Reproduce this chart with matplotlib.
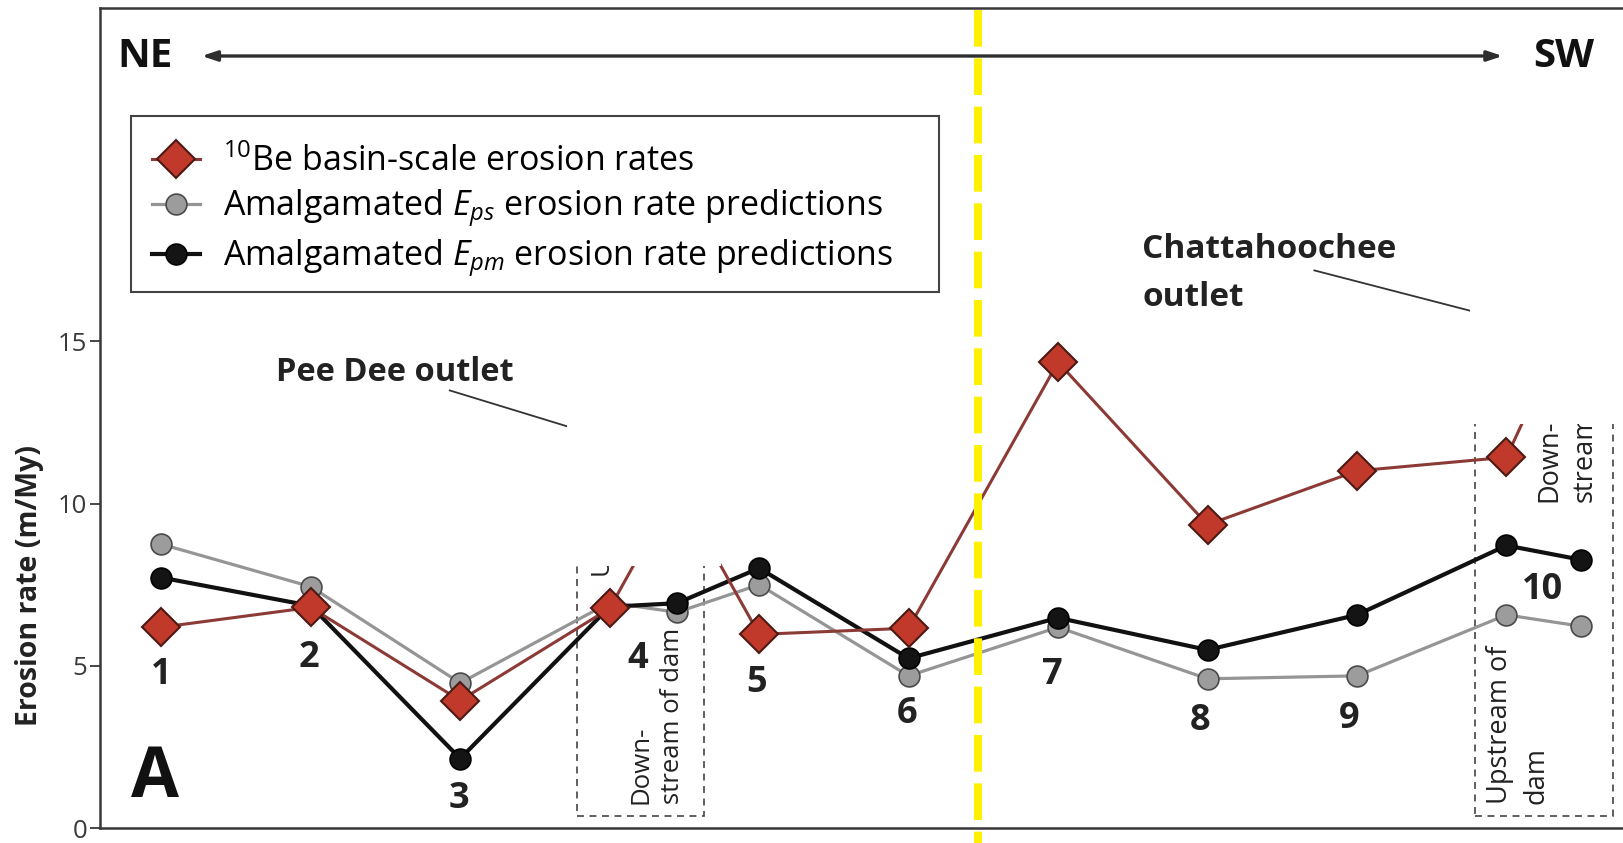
import matplotlib
matplotlib.use("Agg")
import matplotlib.pyplot as plt
from matplotlib.patches import Rectangle
from matplotlib.lines import Line2D

plt.rcParams['font.family'] = ['Open Sans', 'DejaVu Sans']
plt.rcParams['mathtext.fontset'] = 'custom'
plt.rcParams['mathtext.rm'] = 'Open Sans'
plt.rcParams['mathtext.it'] = 'Open Sans:italic'
plt.rcParams['mathtext.bf'] = 'Open Sans:bold'
plt.rcParams['lines.scale_dashes'] = False

# sample positions along the NE -> SW profile (sites 4 and 10 have a pair around the dam)
site_pos = [1, 2, 3, 4, 4.45, 5, 6, 7, 8, 9, 10, 10.5]
be10_rate = [6.19, 6.80, 3.93, 6.77, 10.5, 5.97, 6.16, 14.36, 9.35, 11.01, 11.43, 16.4]
eps_rate = [8.75, 7.44, 4.47, 6.95, 6.65, 7.50, 4.69, 6.19, 4.60, 4.69, 6.57, 6.22]
epm_rate = [7.72, 6.85, 2.14, 6.82, 6.93, 8.01, 5.23, 6.48, 5.49, 6.57, 8.71, 8.27]

site_names = ['1', '2', '3', '4', '5', '6', '7', '8', '9', '10']
yticks = [0, 5, 10, 15]

# where each site number sits
label_xy = [(1.0, 4.72), (1.99, 5.25), (2.99, 0.9), (4.19, 5.2), (4.98, 4.47),
            (5.99, 3.52), (6.96, 4.72), (7.95, 3.3), (8.95, 3.36), (10.24, 7.35)]

fig = plt.figure(figsize=(16.23, 8.43), dpi=100)
ax = fig.add_axes([100 / 1623, 15 / 843, 1523 / 1623, 820 / 843])

edge = '#383838'
for s in ax.spines.values():
    s.set_linewidth(1.8)
    s.set_color(edge)
ax.spines['right'].set_visible(False)

grey_line, = ax.plot(site_pos, eps_rate, color='#959595', lw=2.3, marker='o', ms=15,
                     mfc='#9c9c9c', mec='#4a4a4a', mew=1.2, zorder=3,
                     label='Amalgamated $E_{ps}$ erosion rate predictions')
black_line, = ax.plot(site_pos, epm_rate, color='#111111', lw=3.0, marker='o', ms=15,
                      mfc='#141414', mec='#000000', mew=1.2, zorder=4,
                      label='Amalgamated $E_{pm}$ erosion rate predictions')
red_line, = ax.plot(site_pos, be10_rate, color='#8c3a36', lw=2.2, marker='D', ms=19,
                    mfc='#c0392b', mec='#4a1a14', mew=1.5, zorder=5,
                    label='$^{10}$Be basin-scale erosion rates')

ax.set_xlim(0.59, 10.78)
ax.set_ylim(0, 25.28)
ax.set_xticks([])
ax.set_yticks(yticks)
ax.tick_params(axis='y', direction='out', length=7, width=1.3, color=edge,
               labelsize=18.5, labelcolor='#3a3a3a', pad=2)

fig.text(30 / 1623, 1 - 585 / 843, 'Erosion rate (m/My)', rotation=90, fontsize=20.5,
         fontweight='bold', ha='center', va='center', color='#222222')

# site numbers
for name, (x, y) in zip(site_names, label_xy):
    ax.text(x, y, name, fontsize=26, fontweight='bold', ha='center', va='center',
            color='#222222', zorder=6)

ax.text(0.96, 1.5, 'A', fontsize=50, fontweight='bold', ha='center', va='center',
        color='#111111')

# NE - SW direction arrow
ax.annotate('', xy=(1.27, 23.8), xytext=(9.975, 23.8),
            arrowprops=dict(arrowstyle='<|-|>,head_length=0.9,head_width=0.3',
                            color='#2e2e2e', lw=2.4, shrinkA=0, shrinkB=0))
ax.text(0.89, 23.77, 'NE', fontsize=29, fontweight='bold', ha='center', va='center',
        color='#111111')
ax.text(10.38, 23.77, 'SW', fontsize=29, fontweight='bold', ha='center', va='center',
        color='#111111')

# outlet callouts
ax.text(1.77, 14.04, 'Pee Dee outlet', fontsize=23.5, fontweight='bold', ha='left',
        va='center', color='#222222')
ax.plot([2.93, 4.2], [13.49, 11.7], color='#333333', lw=1.3, zorder=4)
ax.text(7.565, 17.82, 'Chattahoochee', fontsize=24, fontweight='bold', ha='left',
        va='center', color='#222222')
ax.text(7.565, 16.37, 'outlet', fontsize=24, fontweight='bold', ha='left',
        va='center', color='#222222')
ax.plot([8.715, 10.3], [17.19, 15.3], color='#333333', lw=1.3, zorder=4)

# dashed boxes marking the dammed reaches
for x0, x1 in [(3.78, 4.63), (9.79, 10.71)]:
    ax.add_patch(Rectangle((x0, 0.37), x1 - x0, 14.0, fill=False, ec='#444444', lw=1.2,
                           ls=(0, (5, 4)), zorder=2))

# rotated notes inside the dashed boxes, one column per line
dam_notes = [(4.213, 0.75, 'Down-', 18.5), (4.42, 0.75, 'stream of dam', 18.5),
             (3.96, 7.75, 'Upstream of dam', 18.5),
             (9.96, 0.75, 'Upstream of', 19.5), (10.2, 0.75, 'dam', 19.5),
             (10.29, 10.06, 'Down-', 19.5), (10.52, 10.06, 'stream', 19.5)]
for x, y, txt, fs in dam_notes:
    ax.text(x, y, txt, rotation=90, fontsize=fs, ha='center', va='bottom',
            color='#222222')

# legend entries, with a plain rectangular frame drawn around them
leg = ax.legend(handles=[red_line, grey_line, black_line], loc='upper left',
                bbox_to_anchor=(0.0204, 0.8595), borderaxespad=0, fontsize=24.5,
                frameon=False, borderpad=0.62, labelspacing=0.245, handlelength=1.41,
                handletextpad=0.68)
ax.add_patch(Rectangle((31 / 1523, (828 - 292) / 820), 808 / 1523, 176 / 820,
                       transform=ax.transAxes, fill=False, ec='#444444', lw=1.5,
                       zorder=6))

# blank panels laid over parts of the plot
for (px, py, pw, ph) in [(567, 331, 154, 235), (1470, 217, 153, 207)]:
    fig.patches.append(Rectangle((px / 1623, 1 - (py + ph) / 843), pw / 1623, ph / 843,
                                 transform=fig.transFigure, fc='white', ec='none',
                                 zorder=20))

# yellow dashed divider running the full height
fig.add_artist(Line2D([978 / 1623, 978 / 1623], [1, 0], transform=fig.transFigure,
                      color='#fff000', lw=5.8, ls=(27.6, (26.4, 8.4)), zorder=30,
                      solid_capstyle='butt', dash_capstyle='butt'))

fig.savefig('out.png', dpi=100)
